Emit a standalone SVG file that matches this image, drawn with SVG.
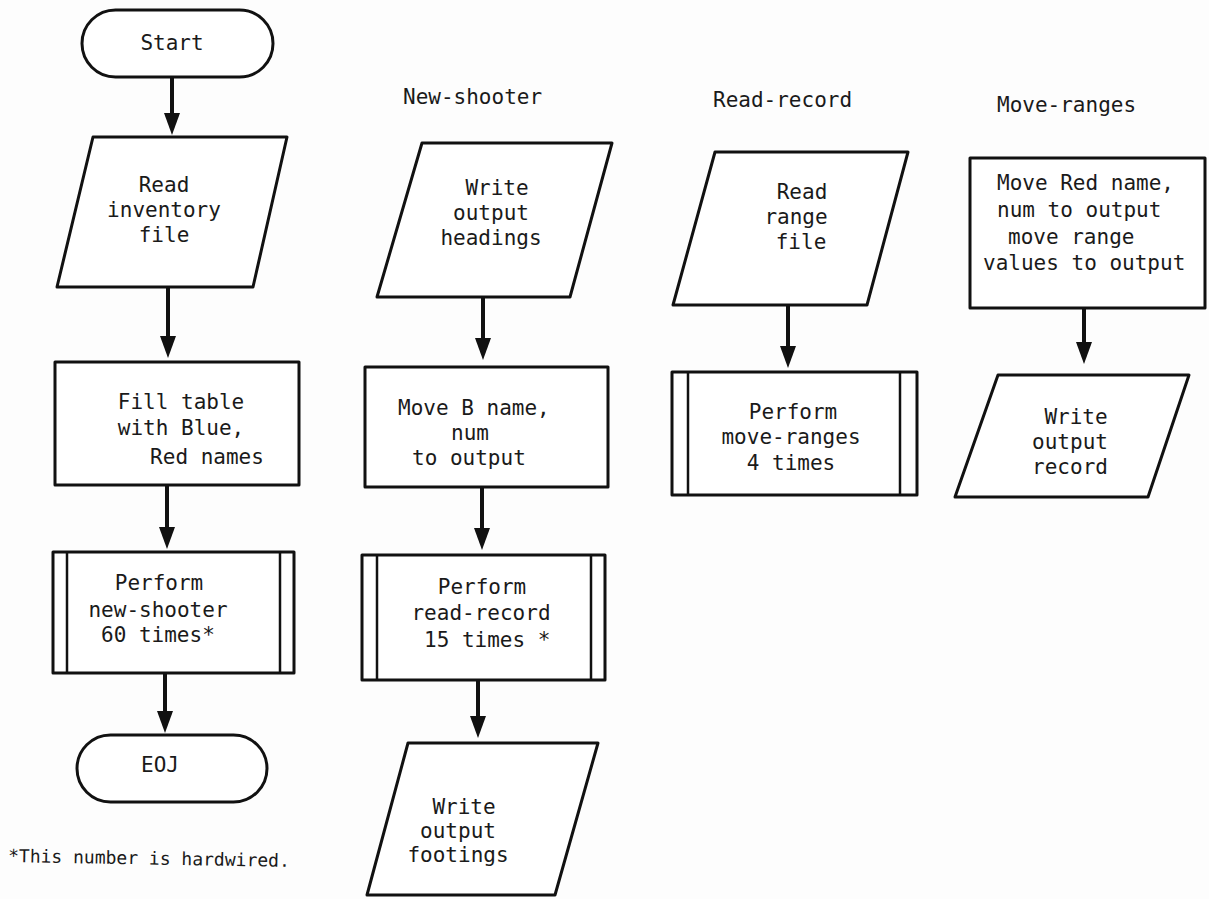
<svg xmlns="http://www.w3.org/2000/svg" width="1209" height="899" viewBox="0 0 1209 899">
  <defs>
    <marker id="arrow" viewBox="0 0 22 16" markerWidth="22" markerHeight="16" refX="10" refY="8" orient="auto" markerUnits="userSpaceOnUse">
      <path d="M0,0 L22,8 L0,16 z" fill="#111"/>
    </marker>
  </defs>
  <style>
    .shape { fill: #fff; stroke: #111; stroke-width: 3; stroke-linejoin: round; }
    .bar { fill: none; stroke: #111; stroke-width: 2.5; }
    .flow { fill: none; stroke: #111; stroke-width: 4; marker-end: url(#arrow); }
    text { font-family: "DejaVu Sans Mono", "Liberation Mono", monospace; font-size: 21px; fill: #1a1a1a; }
    .c { text-anchor: middle; }
    .note { font-size: 18px; }
  </style>
  <rect width="1209" height="899" fill="#fdfdfd"/>

  <!-- main routine -->
  <g id="start">
    <rect class="shape" x="82" y="10" width="191" height="67" rx="33.5"/>
    <text class="c" x="172" y="50">Start</text>
  </g>
  <g id="read-inventory">
    <polygon class="shape" points="93,137 287,137 253,287 57,287"/>
    <text class="c" x="164" y="192">Read</text>
    <text class="c" x="164" y="217">inventory</text>
    <text class="c" x="164" y="242">file</text>
  </g>
  <g id="fill-table">
    <rect class="shape" x="55" y="362" width="244" height="123"/>
    <text class="c" x="181" y="409">Fill table</text>
    <text class="c" x="181" y="435">with Blue,</text>
    <text class="c" x="207" y="464">Red names</text>
  </g>
  <g id="perform-new-shooter">
    <rect class="shape" x="53" y="552" width="241" height="121"/>
    <line class="bar" x1="67" y1="552" x2="67" y2="673"/>
    <line class="bar" x1="280" y1="552" x2="280" y2="673"/>
    <text class="c" x="159" y="590">Perform</text>
    <text class="c" x="158" y="617">new-shooter</text>
    <text x="101" y="642">60 times*</text>
  </g>
  <g id="eoj">
    <rect class="shape" x="77" y="735" width="190" height="67" rx="33.5"/>
    <text class="c" x="160" y="772">EOJ</text>
  </g>
  <g id="footnote">
    <text class="note" x="8" y="862" transform="rotate(1 8 862)">*This number is hardwired.</text>
  </g>

  <!-- New-shooter -->
  <g id="new-shooter-title">
    <text x="403" y="104">New-shooter</text>
  </g>
  <g id="write-headings">
    <polygon class="shape" points="422,143 612,143 570,297 377,297"/>
    <text class="c" x="497" y="195">Write</text>
    <text class="c" x="491" y="220">output</text>
    <text class="c" x="491" y="245">headings</text>
  </g>
  <g id="move-b-name">
    <rect class="shape" x="365" y="367" width="243" height="120"/>
    <text x="398" y="415">Move B name,</text>
    <text class="c" x="470" y="440">num</text>
    <text x="412" y="465">to output</text>
  </g>
  <g id="perform-read-record">
    <rect class="shape" x="362" y="555" width="243" height="125"/>
    <line class="bar" x1="377" y1="555" x2="377" y2="680"/>
    <line class="bar" x1="591" y1="555" x2="591" y2="680"/>
    <text class="c" x="482" y="594">Perform</text>
    <text class="c" x="481" y="620">read-record</text>
    <text x="424" y="647">15 times *</text>
  </g>
  <g id="write-footings">
    <polygon class="shape" points="408,743 598,743 555,895 367,895"/>
    <text class="c" x="464" y="814">Write</text>
    <text class="c" x="458" y="838">output</text>
    <text class="c" x="458" y="862">footings</text>
  </g>

  <!-- Read-record -->
  <g id="read-record-title">
    <text x="713" y="107">Read-record</text>
  </g>
  <g id="read-range">
    <polygon class="shape" points="715,152 908,152 867,305 673,305"/>
    <text class="c" x="802" y="199">Read</text>
    <text class="c" x="796" y="224">range</text>
    <text class="c" x="801" y="249">file</text>
  </g>
  <g id="perform-move-ranges">
    <rect class="shape" x="672" y="372" width="245" height="123"/>
    <line class="bar" x1="688" y1="372" x2="688" y2="495"/>
    <line class="bar" x1="900" y1="372" x2="900" y2="495"/>
    <text class="c" x="793" y="419">Perform</text>
    <text class="c" x="791" y="444">move-ranges</text>
    <text class="c" x="791" y="470">4 times</text>
  </g>

  <!-- Move-ranges -->
  <g id="move-ranges-title">
    <text x="997" y="112">Move-ranges</text>
  </g>
  <g id="move-red-name">
    <rect class="shape" x="970" y="158" width="235" height="150"/>
    <text x="997" y="190">Move Red name,</text>
    <text x="997" y="217">num to output</text>
    <text x="1008" y="244">move range</text>
    <text x="983" y="270">values to output</text>
  </g>
  <g id="write-record">
    <polygon class="shape" points="998,375 1189,375 1148,497 955,497"/>
    <text class="c" x="1076" y="424">Write</text>
    <text class="c" x="1070" y="449">output</text>
    <text class="c" x="1070" y="474">record</text>
  </g>

  <!-- connectors -->
  <g id="connectors">
    <line class="flow" x1="172" y1="77" x2="172" y2="123"/>
    <line class="flow" x1="168" y1="287" x2="168" y2="346"/>
    <line class="flow" x1="167" y1="485" x2="167" y2="537"/>
    <line class="flow" x1="165" y1="673" x2="165" y2="721"/>
    <line class="flow" x1="483" y1="297" x2="483" y2="348"/>
    <line class="flow" x1="482" y1="487" x2="482" y2="538"/>
    <line class="flow" x1="478" y1="680" x2="478" y2="726"/>
    <line class="flow" x1="788" y1="305" x2="788" y2="356"/>
    <line class="flow" x1="1084" y1="308" x2="1084" y2="352"/>
  </g>
</svg>
